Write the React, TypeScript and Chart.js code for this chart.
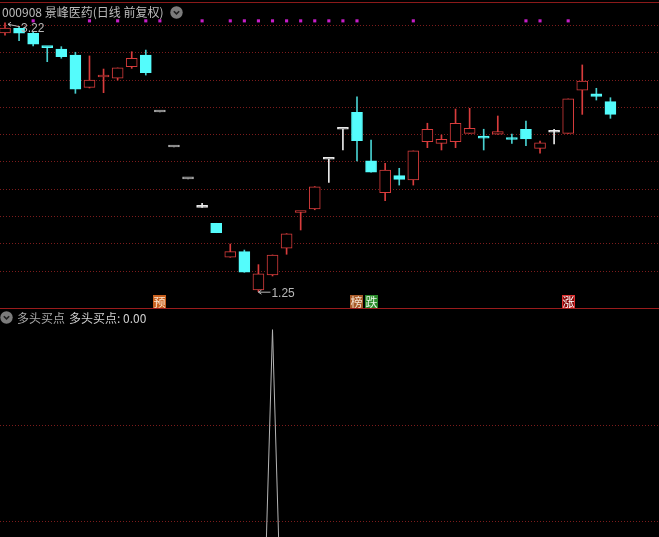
import React, { useEffect, useRef } from "react";
import { Chart, registerables } from "chart.js";

Chart.register(...registerables);

// ---- data (daily candles, index = trading day) ----
const opens = [3.145, 3.18, 3.143, 3.042, 3.028, 2.984, 2.747, 2.823, 2.815, 2.898, 2.984, 2.566, 2.31, 2.076, 1.868, 1.751, 1.502, 1.543, 1.262, 1.372, 1.568, 1.83, 1.856, 2.22, 2.44, 2.564, 2.209, 1.975, 2.1, 2.068, 2.349, 2.337, 2.349, 2.41, 2.39, 2.403, 2.368, 2.44, 2.3, 2.418, 2.41, 2.727, 2.7, 2.642];
const highs = [3.22, 3.19, 3.15, 3.042, 3.045, 3.004, 2.977, 2.881, 2.889, 3.008, 3.02, 2.566, 2.31, 2.076, 1.897, 1.751, 1.599, 1.555, 1.448, 1.519, 1.675, 1.834, 2.02, 2.22, 2.44, 2.678, 2.361, 2.19, 2.154, 2.281, 2.484, 2.398, 2.588, 2.593, 2.44, 2.537, 2.405, 2.5, 2.354, 2.44, 2.662, 2.911, 2.74, 2.671];
const lows = [3.13, 3.089, 3.05, 2.935, 2.96, 2.703, 2.742, 2.708, 2.8, 2.886, 2.837, 2.566, 2.31, 2.076, 1.868, 1.682, 1.502, 1.392, 1.25, 1.365, 1.524, 1.702, 1.85, 2.051, 2.288, 2.207, 2.125, 1.917, 2.031, 2.031, 2.305, 2.288, 2.305, 2.41, 2.288, 2.403, 2.337, 2.319, 2.264, 2.332, 2.41, 2.549, 2.654, 2.52];
const closes = [3.182, 3.143, 3.064, 3.038, 2.971, 2.733, 2.8, 2.829, 2.889, 2.96, 2.854, 2.566, 2.31, 2.076, 1.868, 1.682, 1.543, 1.392, 1.38, 1.519, 1.673, 1.834, 2.019, 2.22, 2.44, 2.356, 2.125, 2.141, 2.073, 2.281, 2.44, 2.366, 2.484, 2.447, 2.374, 2.422, 2.365, 2.369, 2.341, 2.418, 2.662, 2.793, 2.68, 2.549];

// signal dots (days) drawn on the top row
const signalDays = [2, 6, 8, 10, 11, 14, 16, 17, 18, 19, 20, 21, 22, 23, 24, 25, 29, 37, 38, 40];
const SIGNAL_PRICE = 3.234;

// event badges
const eventDays = [11, 25, 26, 40];
const eventTexts = ["预", "榜", "跌", "涨"];
const eventKinds = ["pre", "list", "down", "up"];

// price grid ticks
const priceTicks = [1.4, 1.6, 1.8, 2.0, 2.2, 2.4, 2.6, 2.8, 3.0, 3.2];

// lower indicator 多头买点
const buyPoint = [0, 0, 0, 0, 0, 0, 0, 0, 0, 0, 0, 0, 0, 0, 0, 0, 0, 0, 0, 1, 0, 0, 0, 0, 0, 0, 0, 0, 0, 0, 0, 0, 0, 0, 0, 0, 0, 0, 0, 0, 0, 0, 0, 0];
const indTicks = [0.6, 0.8];

// ---- styles ----
const X_MIN = -0.355;
const X_MAX = 46.45;
const PRICE_MIN = 1.1304;
const PRICE_MAX = 3.3868;
const IND_MIN = 0.5681;
const IND_MAX = 1.0431;
const UP = "#d83c3c";
const DOWN = "#54fcfc";
const DOWN_WICK = "#48d0d0";
const FLAT = "#a8a8a8";
const DOJI = "#e8e8e8";
const GRID = "#7c1c1c";
const BADGE: Record<string, { bg: string; fg: string; border?: string }> = {
  pre: { bg: "#c8601e", fg: "#fbe6d2" },
  list: { bg: "#a85a28", fg: "#f4e2d0" },
  down: { bg: "#2a8a2a", fg: "#e6f6e6" },
  up: { bg: "#8a0c0c", fg: "#ffffff", border: "#e03030" },
};

function kind(i: number) {
  if (closes[i] > opens[i]) return "up";
  if (closes[i] < opens[i]) return "down";
  return highs[i] === lows[i] ? "flat" : "doji";
}
function lineColor(i: number) {
  const k = kind(i);
  return k === "up" ? UP : k === "down" ? DOWN : k === "flat" ? FLAT : DOJI;
}

const days = opens.map((_, i) => i);

const overlayPlugin = {
  id: "overlay",
  afterDatasetsDraw(chart: any) {
    const ctx = chart.ctx as CanvasRenderingContext2D;
    const xs = chart.scales.x;
    const ys = chart.scales.y;
    ctx.save();
    // high / low markers
    let hi = 0, lo = 0;
    days.forEach((i) => {
      if (highs[i] > highs[hi]) hi = i;
      if (lows[i] < lows[lo]) lo = i;
    });
    ctx.strokeStyle = "#b8b8b8";
    ctx.fillStyle = "#b8b8b8";
    ctx.lineWidth = 1;
    ctx.font = '12px "Liberation Sans", "Noto Sans CJK SC", sans-serif';
    ctx.textBaseline = "middle";
    ctx.textAlign = "left";
    const drawMark = (px: number, py: number, dy: number, txt: string) => {
      const x0 = px + 1, y0 = py + 0.5;
      const x1 = px + 13, y1 = py + dy;
      ctx.beginPath();
      ctx.moveTo(x0, y0);
      ctx.lineTo(x1, y1);
      ctx.moveTo(x0, y0);
      ctx.lineTo(x0 + 3, y0 - 2);
      ctx.moveTo(x0, y0);
      ctx.lineTo(x0 + 3, y0 + 2);
      ctx.stroke();
      ctx.fillText(txt, px + 14, py + dy + 1.5);
    };
    drawMark(xs.getPixelForValue(hi) + 2, ys.getPixelForValue(highs[hi]) + 1, 3, highs[hi].toFixed(2));
    drawMark(xs.getPixelForValue(lo) - 1, ys.getPixelForValue(lows[lo]), 0.5, lows[lo].toFixed(2));

    // event badges
    ctx.font = '12px "Noto Sans CJK SC", sans-serif';
    ctx.textAlign = "center";
    const bottom = chart.chartArea.bottom;
    eventDays.forEach((d, k) => {
      const st = BADGE[eventKinds[k]];
      const cx = xs.getPixelForValue(d);
      const left = Math.round(cx - 6.5);
      const top = bottom - 13;
      ctx.fillStyle = st.bg;
      ctx.fillRect(left, top, 13, 13);
      if (st.border) {
        ctx.strokeStyle = st.border;
        ctx.strokeRect(left + 0.5, top + 0.5, 12, 12);
      }
      ctx.fillStyle = st.fg;
      ctx.fillText(eventTexts[k], left + 6.5, top + 7);
    });
    ctx.restore();
  },
};

function Chevron() {
  return (
    <svg width="13" height="13" viewBox="0 0 13 13" style={{ display: "block" }}>
      <circle cx="6.5" cy="6.5" r="6.2" fill="#7c7c7c" />
      <polyline points="3.8,5.2 6.5,7.9 9.2,5.2" fill="none" stroke="#202020" strokeWidth="1.6" />
    </svg>
  );
}

export default function App() {
  const topRef = useRef<HTMLCanvasElement>(null);
  const botRef = useRef<HTMLCanvasElement>(null);

  useEffect(() => {
    const xScale = { type: "linear" as const, min: X_MIN, max: X_MAX, display: false, offset: false };
    const yGrid = (min: number, max: number, ticks: number[]) => ({
      type: "linear" as const,
      min,
      max,
      beginAtZero: false,
      afterBuildTicks: (s: any) => {
        s.ticks = ticks.map((v) => ({ value: v }));
      },
      grid: { color: GRID, lineWidth: 1, drawTicks: false },
      border: { display: false, dash: [1, 2] },
      ticks: { display: false },
    });

    const c1 = new Chart(topRef.current!, {
      type: "bar",
      data: {
        datasets: [
          {
            type: "bar",
            data: days.map((i) => ({ x: i, y: [lows[i], highs[i]] })) as any,
            backgroundColor: days.map((i) => (kind(i) === "down" ? DOWN_WICK : lineColor(i))),
            borderWidth: 0,
            barThickness: 1,
            grouped: false,
            order: 3,
          },
          {
            type: "bar",
            data: days.map((i) => ({ x: i, y: [opens[i], closes[i]] })) as any,
            backgroundColor: days.map((i) => (kind(i) === "up" ? "#000000" : lineColor(i))),
            borderColor: days.map((i) => lineColor(i)),
            borderWidth: 1,
            borderSkipped: false,
            barThickness: 11,
            minBarLength: 2,
            grouped: false,
            order: 2,
          },
          {
            type: "scatter",
            data: signalDays.map((d) => ({ x: d, y: SIGNAL_PRICE })),
            pointStyle: "rect",
            pointRadius: 2.2,
            backgroundColor: "#c81ec8",
            borderWidth: 0,
            order: 1,
          } as any,
        ],
      },
      options: {
        animation: false,
        responsive: false,
        events: [],
        layout: { padding: 0, autoPadding: false },
        plugins: { legend: { display: false }, tooltip: { enabled: false } },
        scales: { x: xScale as any, y: yGrid(PRICE_MIN, PRICE_MAX, priceTicks) as any },
      },
      plugins: [overlayPlugin],
    });

    const c2 = new Chart(botRef.current!, {
      type: "line",
      data: {
        datasets: [
          {
            data: days.map((i) => ({ x: i, y: buyPoint[i] })),
            borderColor: "#b4b4b4",
            borderWidth: 1,
            pointRadius: 0,
            tension: 0,
            fill: false,
          },
        ],
      },
      options: {
        animation: false,
        responsive: false,
        events: [],
        layout: { padding: 0, autoPadding: false },
        plugins: { legend: { display: false }, tooltip: { enabled: false } },
        scales: { x: xScale as any, y: yGrid(IND_MIN, IND_MAX, indTicks) as any },
      },
    });
    return () => {
      c1.destroy();
      c2.destroy();
    };
  }, []);

  const cjk = '"Noto Sans CJK SC", "Liberation Sans", sans-serif';
  return (
    <div
      style={{
        position: "fixed",
        left: 0,
        top: 0,
        width: 659,
        height: 537,
        background: "#000",
        overflow: "hidden",
        fontFamily: cjk,
        fontSize: 12,
      }}
    >
      <canvas ref={topRef} width={659} height={308} style={{ position: "absolute", left: 0, top: 0 }} />
      <canvas ref={botRef} width={659} height={228} style={{ position: "absolute", left: 0, top: 309 }} />
      <div style={{ position: "absolute", left: 0, top: 2, width: 659, height: 1, background: "#8b1a1a" }} />
      <div style={{ position: "absolute", left: 0, top: 308, width: 659, height: 1, background: "#9a1c1c" }} />
      <div style={{ position: "absolute", left: 2, top: 4, lineHeight: "16px", color: "#bcbcbc", whiteSpace: "nowrap" }}>
        000908 景峰医药(日线 前复权)
      </div>
      <div style={{ position: "absolute", left: 170, top: 6 }}>
        <Chevron />
      </div>
      <div style={{ position: "absolute", left: 0, top: 311 }}>
        <Chevron />
      </div>
      <div style={{ position: "absolute", left: 17, top: 310, lineHeight: "16px", color: "#a8a8a8", whiteSpace: "nowrap" }}>
        多头买点
      </div>
      <div style={{ position: "absolute", left: 69, top: 310, lineHeight: "16px", color: "#d0d0d0", whiteSpace: "nowrap" }}>
        多头买点: 0.00
      </div>
    </div>
  );
}
